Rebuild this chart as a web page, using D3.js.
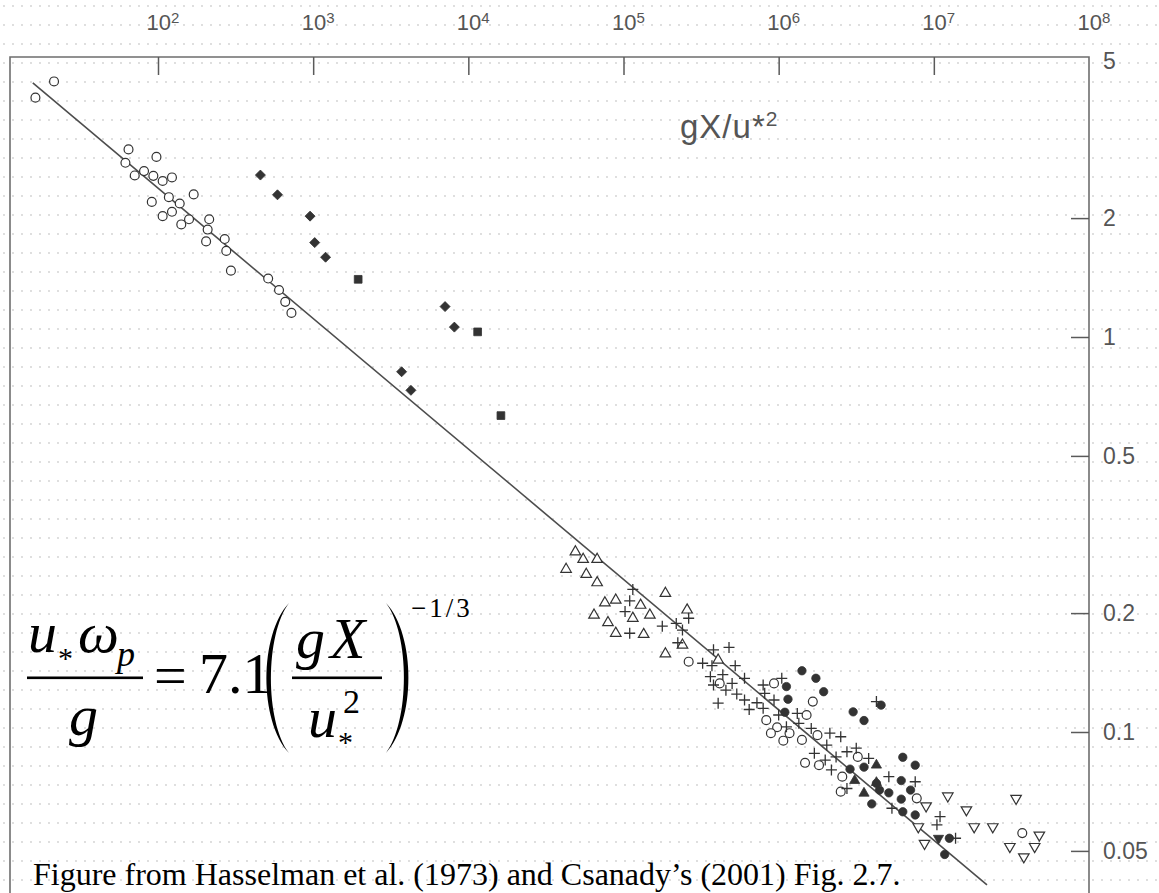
<!DOCTYPE html>
<html lang="en">
<head>
  <meta charset="UTF-8"/>
  <title>Peak frequency vs fetch</title>
  <script src="https://d3js.org/d3.v7.min.js"></script>
  <style>
    body { margin:0; background:#fff; }
    svg { display:block; }
    .axis text { font-family:"Liberation Sans",Arial,sans-serif; fill:#555; }
    .axis line { stroke:#5a5a5a; stroke-width:1.5; }
    .serif { font-family:"Liberation Serif","Times New Roman",serif; fill:#000; }
  </style>
</head>
<body>
  <svg id="chart" width="1159" height="893"></svg>

  <script>
    // points as decade exponents: [log10(gX/u*^2), log10(u* wp/g)]
    const openCircles = [
      [1.21,0.606],[1.33,0.647],[1.81,0.475],[1.99,0.456],[1.79,0.441],[1.85,0.409],
      [1.91,0.420],[1.97,0.408],[2.03,0.395],[2.09,0.404],[2.23,0.361],[1.96,0.342],
      [2.07,0.354],[2.14,0.338],[2.09,0.317],[2.03,0.306],[2.20,0.298],[2.15,0.285],
      [2.33,0.298],[2.32,0.272],[2.43,0.248],[2.31,0.242],[2.44,0.218],[2.47,0.168],
      [2.71,0.148],[2.78,0.119],[2.82,0.089],[2.86,0.061],
      [5.42,-0.822],[5.62,-0.877],[5.97,-0.877],[6.22,-0.923],[6.18,-0.957],[5.92,-0.970],
      [5.99,-0.988],[5.95,-1.003],[6.07,-1.003],[6.03,-1.022],[6.15,-1.020],[6.25,-1.008],
      [6.17,-1.078],[6.26,-1.084],[6.41,-1.113],[6.40,-1.151],[6.51,-1.063],[6.89,-1.168],
      [7.57,-1.256]
    ];
    const filledDiamonds = [
      [2.66,0.410],[2.77,0.360],[2.98,0.306],[3.01,0.239],[3.08,0.202],
      [3.85,0.077],[3.91,0.025],[3.57,-0.088],[3.63,-0.135]
    ];
    const filledSquares = [[3.29,0.146],[4.06,0.013],[4.21,-0.199]];
    const openTriangles = [
      [4.69,-0.544],[4.74,-0.563],[4.83,-0.563],[4.63,-0.588],[4.76,-0.601],[4.83,-0.622],
      [4.88,-0.673],[4.95,-0.666],[5.11,-0.679],[4.81,-0.704],[5.06,-0.712],[5.17,-0.704],
      [4.90,-0.723],[4.95,-0.750],[5.13,-0.753],[5.27,-0.802],[5.38,-0.780],[5.27,-0.649],
      [5.41,-0.691],[5.61,-0.818]
    ];
    const crosses = [
      [5.06,-0.639],[5.04,-0.668],[5.01,-0.695],[5.04,-0.750],[5.25,-0.732],[5.34,-0.725],
      [5.42,-0.712],[5.38,-0.742],[5.35,-0.774],[5.58,-0.792],[5.68,-0.786],[5.51,-0.826],
      [5.57,-0.832],[5.72,-0.832],[5.56,-0.860],[5.64,-0.855],[5.70,-0.877],[5.58,-0.881],
      [5.66,-0.894],[5.73,-0.904],[5.78,-0.864],[5.61,-0.927],[5.78,-0.919],[5.86,-0.926],
      [5.81,-0.943],[5.90,-0.881],[5.91,-0.902],[5.97,-0.919],[5.90,-0.940],[6.02,-0.864],
      [6.00,-0.957],[6.12,-0.953],[6.05,-0.987],[6.13,-0.978],[6.21,-0.991],[6.33,-1.003],
      [6.40,-1.012],[6.31,-1.033],[6.23,-1.054],[6.30,-1.071],[6.37,-1.063],[6.44,-1.050],
      [6.50,-1.041],[6.58,-1.067],[6.34,-1.096],[6.44,-1.143],[6.71,-1.113],[6.88,-1.126],
      [6.73,-1.193],[7.02,-1.235],[7.04,-1.214],[7.14,-1.269],[6.63,-0.923]
    ];
    const filledCircles = [
      [6.05,-0.885],[6.06,-0.917],[6.04,-0.950],[6.15,-0.845],[6.24,-0.864],[6.29,-0.898],
      [6.48,-0.949],[6.55,-0.971],[6.66,-0.932],[6.80,-1.064],[6.88,-1.084],[6.46,-1.094],
      [6.55,-1.089],[6.63,-1.130],[6.71,-1.154],[6.79,-1.123],[6.85,-1.147],[6.79,-1.170],
      [6.60,-1.182],[6.80,-1.202],[6.88,-1.210],[6.65,-1.147],[7.10,-1.269],[7.07,-1.310]
    ];
    const filledTriangles = [[6.63,-1.084],[6.49,-1.123],[6.63,-1.128],[6.55,-1.155]];
    const filledDownTriangles = [[7.03,-1.269]];
    const openDownTriangles = [
      [7.09,-1.162],[7.21,-1.197],[7.26,-1.240],[7.38,-1.240],[7.53,-1.168],[7.68,-1.261],
      [7.65,-1.290],[7.49,-1.290],[7.58,-1.316],[6.95,-1.187],[6.90,-1.240],[6.94,-1.282]
    ];

    // fitted line, end points
    const fitX = [15.6, 2.2e7];
    const fitY = [4.40, 0.041];

    const xTicks = [1e2,1e3,1e4,1e5,1e6,1e7,1e8];
    const xTickExp = ['2','3','4','5','6','7','8'];
    const yTicks = [5,2,1,0.5,0.2,0.1,0.05];
    const yTickLabels = ['5','2','1','0.5','0.2','0.1','0.05'];

    const svg = d3.select('#chart'),
          W = 1159, H = 893,
          frameL = 10, frameR = 1089, frameT = 57;

    const x = d3.scaleLog().domain([1e2,1e8]).range([158,1089]);
    const y = d3.scaleLog().domain([0.1,1]).range([732,337]);
    const px = d => x(10 ** d[0]), py = d => y(10 ** d[1]);

    // dotted paper background
    const defs = svg.append('defs');
    const pat = defs.append('pattern').attr('id','dots')
      .attr('patternUnits','userSpaceOnUse').attr('width',9).attr('height',19);
    pat.append('circle').attr('cx',4).attr('cy',6).attr('r',0.9).attr('fill','#cfcfcf');
    svg.append('rect').attr('width',W).attr('height',H).attr('fill','#fff');
    svg.append('rect').attr('width',W).attr('height',H).attr('fill','url(#dots)');

    // fit line
    svg.append('line')
      .attr('x1',x(fitX[0])).attr('y1',y(fitY[0]))
      .attr('x2',x(fitX[1])).attr('y2',y(fitY[1]))
      .attr('stroke','#4d4d4d').attr('stroke-width',1.6);

    // markers
    const dark = '#333';
    function drawSymbol(data, type, size, filled, rot){
      const sym = d3.symbol().type(type).size(size);
      svg.append('g').selectAll('path').data(data).join('path')
        .attr('d',sym)
        .attr('transform',d=>`translate(${px(d)},${py(d)}) rotate(${rot||0})`)
        .attr('fill',filled ? dark : '#fff')
        .attr('stroke',dark)
        .attr('stroke-width',filled ? 0.8 : 1.2);
    }
    drawSymbol(openCircles, d3.symbolCircle, 62, false);
    drawSymbol(filledDiamonds, d3.symbolSquare, 50, true, 45);
    drawSymbol(filledSquares, d3.symbolSquare, 60, true);
    drawSymbol(openTriangles, d3.symbolTriangle, 48, false);
    drawSymbol(filledCircles, d3.symbolCircle, 55, true);
    drawSymbol(filledTriangles, d3.symbolTriangle, 45, true);
    drawSymbol(filledDownTriangles, d3.symbolTriangle, 45, true, 180);
    drawSymbol(openDownTriangles, d3.symbolTriangle, 48, false, 180);

    svg.append('g').selectAll('path').data(crosses).join('path')
      .attr('d','M-5.5,0H5.5M0,-5.5V5.5')
      .attr('transform',d=>`translate(${px(d)},${py(d)})`)
      .attr('stroke',dark).attr('stroke-width',1.3).attr('fill','none');

    // frame (no bottom edge in the cropped scan)
    svg.append('path')
      .attr('d',`M${frameL},${H}V${frameT}H${frameR}V${H}`)
      .attr('fill','none').attr('stroke','#6e6e6e').attr('stroke-width',1.6);

    // top axis: ticks hang inside the frame, labels far above
    const gx = svg.append('g').attr('class','axis')
      .attr('transform',`translate(0,${frameT})`)
      .call(d3.axisTop(x).tickValues(xTicks).tickSizeInner(-18).tickSizeOuter(0)
        .tickPadding(27).tickFormat(''));
    gx.select('.domain').remove();
    gx.selectAll('.tick line').filter(d=>d===1e8).remove();
    gx.selectAll('.tick text').each(function(d,i){
      const t = d3.select(this).attr('font-size',22).attr('dx','0.2em');
      t.append('tspan').text('10');
      t.append('tspan').attr('dy','-0.45em').attr('font-size',15).text(xTickExp[i]);
    });

    // right axis
    const gy = svg.append('g').attr('class','axis')
      .attr('transform',`translate(${frameR},0)`)
      .call(d3.axisRight(y).tickValues(yTicks).tickSizeInner(-18).tickSizeOuter(0)
        .tickPadding(14).tickFormat((d,i)=>yTickLabels[i]));
    gy.select('.domain').remove();
    gy.selectAll('.tick line').filter(d=>d===5).remove();
    gy.selectAll('.tick text').attr('font-size',23);

    // axis title inside the plot
    const ttl = svg.append('text').attr('class','axis')
      .attr('x',680).attr('y',138)
      .attr('font-family','"Liberation Sans",Arial,sans-serif')
      .attr('font-size',33).attr('fill','#555').attr('letter-spacing',1);
    ttl.append('tspan').text('gX/u*');
    ttl.append('tspan').attr('dy',-12).attr('font-size',21).text('2');

    // formula
    const eq = svg.append('g').attr('class','serif');
    function put(txt, xx, yy, size, italic){
      return eq.append('text').attr('x',xx).attr('y',yy)
        .attr('font-size',size).attr('font-style',italic ? 'italic' : 'normal').text(txt);
    }
    put('u', 28, 652, 58, true);
    put('*', 58, 668, 30, false);
    put('\u03c9', 78, 652, 58, true);
    put('p', 117, 666, 36, true);
    eq.append('rect').attr('x',27).attr('y',676.5).attr('width',116).attr('height',2.6);
    put('g', 69, 735, 58, true);
    put('=', 154, 695, 58, false);
    put('7.1', 199, 693, 58, false);
    put('g', 296, 658, 58, true);
    put('X', 330, 658, 58, true);
    eq.append('rect').attr('x',292).attr('y',676.5).attr('width',90).attr('height',2.6);
    put('u', 308, 737, 58, true);
    put('2', 343, 713, 34, false);
    put('*', 338, 752, 30, false);
    put('\u22121/3', 411, 617, 27, false).attr('letter-spacing',3);
    // big parentheses
    eq.append('path').attr('d','M289,603 C259,635 259,721 289,753 C265,721 265,635 289,603Z');
    eq.append('path').attr('d','M386,603 C416,635 416,721 386,753 C410,721 410,635 386,603Z');

    // caption
    svg.append('text').attr('class','serif')
      .attr('x',33).attr('y',885).attr('font-size',32)
      .text('Figure from Hasselman et al. (1973) and Csanady\u2019s (2001) Fig. 2.7.');
  </script>
</body>
</html>
